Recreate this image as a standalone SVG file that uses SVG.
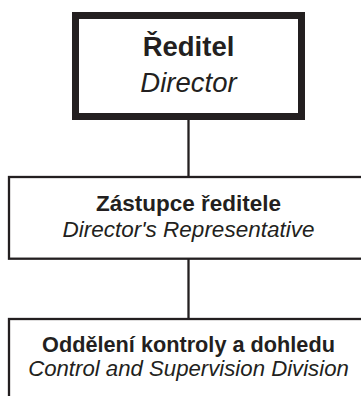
<svg xmlns="http://www.w3.org/2000/svg" width="361" height="396" viewBox="0 0 361 396">
<style>
.box{fill:#fff;stroke:#231f20}
.t{font-family:"Liberation Sans",Arial,sans-serif;fill:#231f20;text-anchor:middle}
.b{font-weight:bold}
.i{font-style:italic}
.c{stroke:#231f20;stroke-width:2.3;fill:none}
</style>
<rect width="361" height="396" fill="#fff"/>
<g id="connectors">
<line class="c" x1="188.5" y1="116" x2="188.5" y2="177"/>
<line class="c" x1="188.5" y1="258" x2="188.5" y2="319"/>
</g>
<g id="director">
<rect class="box" x="75.5" y="15.5" width="226" height="101" stroke-width="7"/>
<text class="t b" x="188.5" y="56" font-size="27.5">Ředitel</text>
<text class="t i" x="188.5" y="92" font-size="27.5">Director</text>
</g>
<g id="representative">
<rect class="box" x="9" y="177" width="360" height="81.7" stroke-width="2.3"/>
<text class="t b" x="188.5" y="210.7" font-size="22.5">Zástupce ředitele</text>
<text class="t i" x="188.5" y="236.7" font-size="22.5">Director's Representative</text>
</g>
<g id="division">
<rect class="box" x="9" y="319" width="360" height="100" stroke-width="2.3"/>
<text class="t b" x="188.5" y="352.3" font-size="21.7">Oddělení kontroly a dohledu</text>
<text class="t i" x="188.5" y="376" font-size="22.2">Control and Supervision Division</text>
</g>
</svg>
